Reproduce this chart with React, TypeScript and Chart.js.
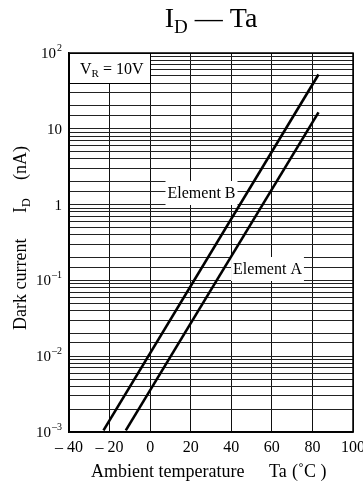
import React, { useEffect, useRef } from "react";
import { Chart, registerables } from "chart.js";
Chart.register(...registerables);

const elementBTemp = [-23, 83];
const elementBCurrent = [0.00105, 52];
const elementATemp = [-12, 83];
const elementACurrent = [0.00105, 16.5];

const xTicks = [-40, -20, 0, 20, 40, 60, 80, 100];
const xTickLabels = ["– 40", "– 20", "0", "20", "40", "60", "80", "100"];
const yTicks = [100, 10, 1, 0.1, 0.01, 0.001];
const yTickBase = ["10", "10", "1", "10", "10", "10"];
const yTickExp = ["2", "", "", "–1", "–2", "–3"];

const SERIF = "'Liberation Serif', 'DejaVu Serif', serif";

const textPlugin = {
  id: "texts",
  beforeDatasetsDraw(chart: any) {
    const ctx = chart.ctx;
    const xs = chart.scales.x;
    const ys = chart.scales.y;
    ctx.save();
    // VR box
    const bx0 = xs.getPixelForValue(-40);
    const bx1 = xs.getPixelForValue(0);
    const by0 = ys.getPixelForValue(100);
    const by1 = ys.getPixelForValue(40);
    ctx.fillStyle = "#fff";
    ctx.fillRect(bx0, by0, bx1 - bx0, by1 - by0);
    ctx.strokeStyle = "#000";
    ctx.lineWidth = 1;
    ctx.strokeRect(Math.round(bx0) + 0.5, Math.round(by0) + 0.5, Math.round(bx1 - bx0), Math.round(by1 - by0));
    ctx.fillStyle = "#000";
    ctx.textBaseline = "alphabetic";
    ctx.textAlign = "left";
    let x = 80;
    const yb = 74;
    ctx.font = `16px ${SERIF}`;
    ctx.fillText("V", x, yb);
    x += ctx.measureText("V").width;
    ctx.font = `11px ${SERIF}`;
    ctx.fillText("R", x, yb + 3);
    x += ctx.measureText("R").width;
    ctx.font = `16px ${SERIF}`;
    ctx.fillText(" = 10V", x, yb);

    // element labels with white background
    const labels = [
      { t: "Element B", cx: 201.5, cy: 193 },
      { t: "Element A", cx: 267.5, cy: 269 },
    ];
    ctx.font = `16px ${SERIF}`;
    for (const l of labels) {
      const w = ctx.measureText(l.t).width;
      ctx.fillStyle = "#fff";
      ctx.fillRect(l.cx - w / 2 - 2, l.cy - 12, w + 4, 24);
      ctx.fillStyle = "#000";
      ctx.textAlign = "center";
      ctx.textBaseline = "middle";
      ctx.fillText(l.t, l.cx, l.cy + 1);
    }
    ctx.restore();
  },
  afterDatasetsDraw(chart: any) {
    const ctx = chart.ctx;
    const a = chart.chartArea;
    ctx.save();
    ctx.strokeStyle = "#000";
    ctx.lineWidth = 1.5;
    ctx.strokeRect(a.left, a.top, a.right - a.left, a.bottom - a.top);
    ctx.restore();
  },
  afterDraw(chart: any) {
    const ctx = chart.ctx;
    const xs = chart.scales.x;
    const ys = chart.scales.y;
    ctx.save();
    ctx.fillStyle = "#000";
    // y tick labels
    yTicks.forEach((v, i) => {
      const py = ys.getPixelForValue(v);
      const right = 62;
      ctx.textBaseline = "middle";
      ctx.textAlign = "left";
      ctx.font = `10px ${SERIF}`;
      const ew = yTickExp[i] ? ctx.measureText(yTickExp[i]).width + 1 : 0;
      ctx.font = `15px ${SERIF}`;
      const bw = ctx.measureText(yTickBase[i]).width;
      ctx.fillText(yTickBase[i], right - ew - bw, py + 1);
      if (yTickExp[i]) {
        ctx.font = `10px ${SERIF}`;
        ctx.fillText(yTickExp[i], right - ew + 1, py - 5);
      }
    });
    // x tick labels
    ctx.font = `16px ${SERIF}`;
    ctx.textAlign = "center";
    ctx.textBaseline = "middle";
    xTicks.forEach((v, i) => {
      ctx.fillText(xTickLabels[i], xs.getPixelForValue(v), 448);
    });
    // x title
    ctx.textAlign = "left";
    ctx.textBaseline = "alphabetic";
    ctx.font = `18px ${SERIF}`;
    ctx.fillText("Ambient temperature", 91, 477);
    ctx.fillText("Ta", 269, 477);
    ctx.fillText("(˚C )", 292, 477);
    // y title rotated
    ctx.save();
    ctx.translate(26, 330);
    ctx.rotate(-Math.PI / 2);
    ctx.font = `18px ${SERIF}`;
    ctx.fillText("Dark current", 0, 0);
    ctx.fillText("I", 117, 0);
    let wI = ctx.measureText("I").width;
    ctx.font = `12px ${SERIF}`;
    ctx.fillText("D", 117 + wI, 4);
    ctx.font = `18px ${SERIF}`;
    ctx.fillText("(nA)", 150, 0);
    ctx.restore();
    // title
    ctx.font = `28px ${SERIF}`;
    const wI2 = ctx.measureText("I").width;
    const wRest = ctx.measureText(" — Ta").width;
    ctx.font = `19px ${SERIF}`;
    const wD = ctx.measureText("D").width;
    const total = wI2 + wD + wRest;
    let tx = 211 - total / 2;
    ctx.font = `28px ${SERIF}`;
    ctx.fillText("I", tx, 27);
    tx += wI2;
    ctx.font = `19px ${SERIF}`;
    ctx.fillText("D", tx, 33);
    tx += wD;
    ctx.font = `28px ${SERIF}`;
    ctx.fillText(" — Ta", tx, 27);
    ctx.restore();
  },
};

export default function App() {
  const ref = useRef<HTMLCanvasElement>(null);
  useEffect(() => {
    if (!ref.current) return;
    const chart = new Chart(ref.current, {
      type: "line",
      data: {
        datasets: [
          {
            label: "Element B",
            data: elementBTemp.map((t, i) => ({ x: t, y: elementBCurrent[i] })),
            borderColor: "#000",
            borderWidth: 2.6,
            pointRadius: 0,
            fill: false,
          },
          {
            label: "Element A",
            data: elementATemp.map((t, i) => ({ x: t, y: elementACurrent[i] })),
            borderColor: "#000",
            borderWidth: 2.6,
            pointRadius: 0,
            fill: false,
          },
        ],
      },
      options: {
        responsive: false,
        animation: false,
        devicePixelRatio: 1,
        layout: { padding: { left: 69, top: 53, right: 10, bottom: 55 } },
        plugins: { legend: { display: false }, tooltip: { enabled: false } },
        scales: {
          x: {
            type: "linear",
            min: -40,
            max: 100,
            ticks: { stepSize: 20, display: false },
            grid: { color: "#111", lineWidth: 1, drawTicks: false },
            border: { color: "#000", width: 1.5 },
          },
          y: {
            type: "logarithmic",
            min: 0.001,
            max: 100,
            ticks: { display: false },
            grid: { color: "#222", lineWidth: 1, drawTicks: false },
            border: { color: "#000", width: 1.5 },
          },
        },
      },
      plugins: [textPlugin],
    } as any);
    return () => chart.destroy();
  }, []);
  return (
    <div style={{ position: "fixed", left: 0, top: 0, width: 363, height: 487, background: "#fff" }}>
      <canvas ref={ref} width={363} height={487} />
    </div>
  );
}
